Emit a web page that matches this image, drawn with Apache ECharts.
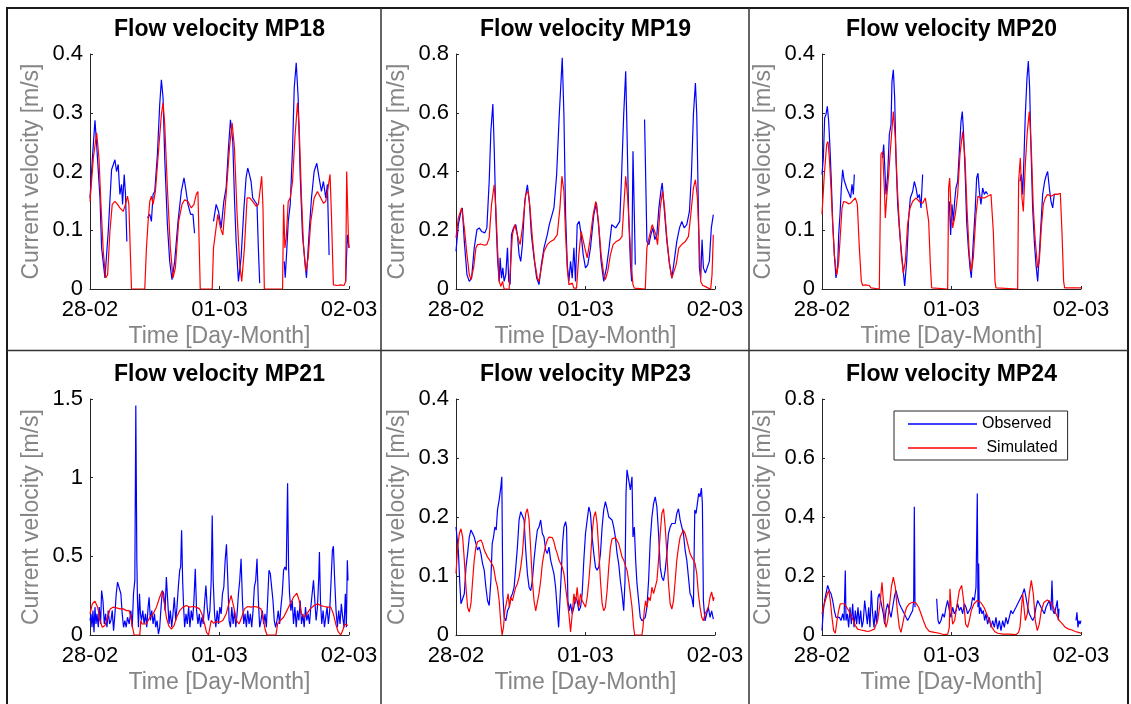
<!DOCTYPE html>
<html><head><meta charset="utf-8">
<script src="https://cdn.jsdelivr.net/npm/echarts@6/dist/echarts.min.js"></script>
<style>html,body{margin:0;padding:0;background:#fff}#c{width:1131px;height:704px}</style>
</head><body><div id="c"></div>
<script>
// ---- tick labels / titles ----
const tickLabels = ['28-02', '01-03', '02-03'];   // at hours 0, 24, 48
const titles = ['Flow velocity MP18','Flow velocity MP19','Flow velocity MP20','Flow velocity MP21','Flow velocity MP23','Flow velocity MP24'];
const yMax  = [0.4, 0.8, 0.4, 1.5, 0.4, 0.8];
const yStep = [0.1, 0.2, 0.1, 0.5, 0.1, 0.2];

// ---- data: [hour since 28-02 00:00, velocity m/s]; null = gap ----
const obsMP18 = [[0,0.155],[0.43,0.22],[0.92,0.287],[1.2,0.25],[1.85,0.155],[2.15,0.07],[2.77,0.019],[3.38,0.098],[4.0,0.203],[4.62,0.22],[4.92,0.2],[5.23,0.212],[5.54,0.161],[5.85,0.178],[6.03,0.144],[6.34,0.195],[6.58,0.161],[6.83,0.081],[8,null],
[10.65,0.121],[11.08,0.127],[11.38,0.115],[11.69,0.161],[12.0,0.166],[12.49,0.229],[12.92,0.314],[13.23,0.356],[13.54,0.325],[13.85,0.223],[14.34,0.11],[14.77,0.047],[15.2,0.016],[15.69,0.047],[16.31,0.115],[16.92,0.166],[17.42,0.189],[17.72,0.172],[18.15,0.144],[18.65,0.127],[19.08,0.127],[19.38,0.095],[21,null],
[22.89,0.115],[23.38,0.144],[23.82,0.132],[24.31,0.104],[24.8,0.149],[25.23,0.172],[25.66,0.24],[26.03,0.288],[26.46,0.251],[26.77,0.155],[27.08,0.081],[27.51,0.013],[28.0,0.053],[28.49,0.132],[28.92,0.189],[29.23,0.206],[29.54,0.195],[29.85,0.183],[30.15,0.155],[30.58,0.149],[30.95,0.144],[31.2,0.07],[31.45,0.01],[33,null],
[36.0,0.047],[36.18,0.019],[36.49,0.07],[36.74,0.115],[37.11,0.144],[37.54,0.24],[37.85,0.342],[38.22,0.385],[38.58,0.325],[38.95,0.195],[39.38,0.092],[39.82,0.047],[40.12,0.019],[40.62,0.098],[41.05,0.155],[41.54,0.2],[42.03,0.214],[42.46,0.189],[42.89,0.166],[43.26,0.183],[43.69,0.155],[44.0,0.178],[44.31,0.058],[46,null],
[47.38,0.013],[47.69,0.092],[48,0.07]];
const simMP18 = [[0,0.149],[0.62,0.223],[1.23,0.266],[1.66,0.223],[2.03,0.144],[2.46,0.064],[2.89,0.019],[3.26,0.024],[3.69,0.098],[4.12,0.144],[4.62,0.149],[5.11,0.144],[5.54,0.138],[6.15,0.132],[6.58,0.144],[6.95,0.158],[7.2,0.144],[7.45,0.07],[7.69,0],[10.15,0],[10.46,0.07],[10.77,0.115],[11.08,0.149],[11.38,0.158],[11.69,0.144],[12.12,0.166],[12.74,0.24],[13.23,0.297],[13.54,0.317],[13.85,0.28],[14.34,0.172],[14.89,0.07],[15.38,0.019],[15.82,0.036],[16.43,0.115],[17.05,0.144],[17.54,0.152],[18.15,0.149],[18.77,0.138],[19.26,0.144],[19.69,0.161],[20.0,0.166],[20.25,0.07],[20.43,0],[22.65,0],[22.89,0.07],[23.2,0.092],[23.69,0.127],[24.18,0.104],[24.62,0.092],[25.23,0.161],[25.85,0.24],[26.34,0.283],[26.77,0.24],[27.26,0.127],[27.75,0.041],[28.12,0.013],[28.62,0.07],[29.11,0.155],[29.6,0.155],[30.15,0.149],[30.77,0.141],[31.2,0.144],[31.57,0.172],[31.82,0.192],[32.06,0.138],[32.31,0],[35.69,0],[35.88,0.144],[36.12,0.07],[36.37,0.087],[36.74,0.149],[37.11,0.155],[37.54,0.183],[37.97,0.257],[38.46,0.317],[38.77,0.274],[39.2,0.155],[39.57,0.075],[40.0,0.03],[40.43,0.053],[40.92,0.115],[41.54,0.155],[42.15,0.166],[42.77,0.155],[43.26,0.146],[43.69,0.149],[44.12,0.172],[44.49,0.195],[44.74,0.127],[45.11,0.007],[45.85,0.006],[46.46,0.007],[47.08,0.006],[47.38,0.013],[47.57,0.2],[47.88,0.092],[48,0.07]];

const obsMP19 = [[0,0.128],[0.43,0.219],[0.92,0.264],[1.17,0.276],[1.54,0.162],[2.03,0.049],[2.46,0.026],[2.89,0.037],[3.38,0.14],[3.88,0.202],[4.31,0.208],[4.74,0.196],[5.05,0.202],[5.35,0.191],[5.72,0.208],[6.15,0.367],[6.46,0.537],[6.83,0.63],[7.08,0.48],[7.38,0.253],[7.69,0.106],[8.0,0.026],[8.18,0.106],[8.43,0.037],[8.68,0.072],[8.92,0.026],[9.23,0.049],[9.54,0.14],[9.78,0.026],[10.03,0.015],[10.28,0.185],[10.65,0.208],[11.08,0.219],[11.38,0.185],[11.69,0.117],[12.0,0.094],[12.31,0.151],[12.74,0.298],[13.23,0.355],[13.6,0.298],[13.97,0.185],[14.46,0.106],[14.95,0.037],[15.38,0.015],[15.82,0.083],[16.31,0.14],[16.92,0.185],[17.29,0.219],[17.66,0.225],[18.15,0.276],[18.65,0.389],[19.14,0.594],[19.69,0.787],[20.0,0.594],[20.31,0.253],[20.62,0.083],[20.92,0.026],[21.23,0.094],[21.54,0.037],[21.85,0.14],[22.15,0.026],[22.46,0.219],[22.83,0.23],[23.2,0.185],[23.57,0.117],[24.0,0.072],[24.43,0.083],[24.92,0.14],[25.54,0.253],[26.03,0.293],[26.46,0.208],[26.89,0.094],[27.38,0.026],[27.88,0.072],[28.37,0.14],[28.86,0.219],[29.23,0.225],[29.6,0.208],[29.97,0.219],[30.34,0.23],[30.65,0.367],[31.08,0.594],[31.45,0.741],[31.69,0.537],[32.0,0.253],[32.31,0.094],[32.55,0.026],[32.8,0.469],[33.05,0.253],[33.23,0.083],[34,null],[34.95,0.577],[35.38,0.162],[35.75,0.151],[36.12,0.185],[36.49,0.208],[36.86,0.168],[37.23,0.185],[37.6,0.276],[37.97,0.333],[38.22,0.361],[38.58,0.276],[39.08,0.162],[39.51,0.094],[40.0,0.037],[40.43,0.094],[40.92,0.162],[41.42,0.208],[41.85,0.23],[42.28,0.208],[42.77,0.219],[43.26,0.264],[43.63,0.389],[44.0,0.594],[44.37,0.701],[44.62,0.594],[44.92,0.276],[45.11,0.072],[45.35,0.037],[45.6,0.168],[45.85,0.072],[46.22,0.054],[46.58,0.06],[46.95,0.094],[47.32,0.208],[47.69,0.253],[47.8,0.253]];
const simMP19 = [[0,0.174],[0.43,0.242],[1.05,0.276],[1.54,0.208],[2.03,0.117],[2.46,0.049],[2.77,0.032],[3.26,0.072],[3.69,0.14],[4.0,0.151],[4.62,0.153],[5.23,0.149],[5.72,0.151],[6.15,0.174],[6.58,0.287],[7.08,0.355],[7.38,0.276],[7.69,0.14],[8.0,0.026],[8.31,0.009],[8.62,0.026],[8.92,0],[9.85,0],[10.15,0.094],[10.46,0.185],[10.89,0.219],[11.2,0.225],[11.51,0.174],[11.88,0.151],[12.31,0.208],[12.92,0.321],[13.35,0.333],[13.72,0.276],[14.15,0.174],[14.58,0.094],[15.08,0.037],[15.38,0.026],[15.82,0.072],[16.31,0.128],[16.92,0.151],[17.54,0.162],[18.15,0.168],[18.77,0.185],[19.26,0.276],[19.63,0.384],[20.0,0.333],[20.31,0.185],[20.62,0.072],[20.92,0.015],[21.23,0.009],[21.54,0.02],[21.85,0.003],[22.34,0.003],[22.77,0.117],[23.2,0.196],[23.57,0.202],[23.88,0.14],[24.31,0.106],[24.8,0.162],[25.42,0.253],[25.91,0.298],[26.4,0.23],[26.89,0.117],[27.38,0.049],[27.69,0.032],[28.12,0.06],[28.62,0.117],[29.11,0.151],[29.72,0.162],[30.34,0.168],[30.77,0.179],[31.08,0.276],[31.45,0.384],[31.82,0.31],[32.18,0.185],[32.49,0.072],[32.8,0.015],[33.05,0.003],[35.08,0],[35.38,0.14],[35.69,0.168],[36.0,0.162],[36.37,0.219],[36.74,0.225],[37.05,0.185],[37.35,0.151],[37.85,0.276],[38.28,0.333],[38.65,0.276],[39.08,0.174],[39.57,0.083],[40.0,0.037],[40.31,0.032],[40.8,0.083],[41.29,0.14],[41.91,0.153],[42.52,0.162],[43.08,0.179],[43.51,0.253],[44.0,0.344],[44.37,0.372],[44.74,0.31],[45.11,0.14],[45.35,0.026],[45.72,0.012],[46.15,0.009],[46.77,0.003],[47.2,0],[47.45,0.049],[47.69,0.185],[47.8,0.185]];

const obsMP20 = [[0,0.195],[0.25,0.223],[0.49,0.291],[0.74,0.297],[0.99,0.311],[1.24,0.285],[1.48,0.24],[1.73,0.183],[1.98,0.115],[2.29,0.058],[2.59,0.019],[2.9,0.036],[3.09,0.092],[3.34,0.127],[3.58,0.172],[3.83,0.203],[4.08,0.186],[4.32,0.183],[4.57,0.172],[4.82,0.175],[5.07,0.161],[5.31,0.155],[5.56,0.178],[5.81,0.161],[5.99,0.195],[8,null],[11.24,0.223],[11.43,0.246],[11.61,0.212],[11.86,0.161],[12.17,0.195],[12.48,0.263],[12.79,0.28],[12.97,0.353],[13.22,0.373],[13.47,0.325],[13.71,0.223],[14.02,0.144],[14.33,0.104],[14.64,0.07],[14.95,0.041],[15.32,0.005],[15.69,0.047],[16.06,0.121],[16.37,0.155],[16.8,0.166],[17.11,0.183],[17.42,0.172],[17.73,0.155],[18.04,0.161],[18.35,0.138],[18.65,0.195],[21,null],[23.6,0.149],[23.84,0.092],[24.09,0.144],[24.34,0.115],[24.58,0.149],[24.83,0.172],[25.14,0.183],[25.45,0.234],[25.76,0.285],[26.0,0.302],[26.25,0.263],[26.56,0.189],[26.81,0.115],[27.12,0.07],[27.43,0.036],[27.67,0.019],[28.04,0.081],[28.41,0.138],[28.66,0.189],[28.91,0.197],[29.16,0.166],[29.46,0.144],[29.77,0.172],[30.08,0.161],[30.39,0.166],[30.7,0.161],[33,null],[36.69,0.183],[36.94,0.195],[37.19,0.161],[37.43,0.223],[37.68,0.297],[37.99,0.359],[38.24,0.388],[38.48,0.342],[38.73,0.24],[39.04,0.138],[39.35,0.081],[39.66,0.041],[39.97,0.013],[40.27,0.058],[40.58,0.11],[40.89,0.161],[41.26,0.183],[41.51,0.192],[41.82,0.2],[42.13,0.172],[42.44,0.149],[42.75,0.138],[43.05,0.161],[43.36,0.158],[43.67,0.161]];
const simMP20 = [[0,0.127],[0.43,0.195],[0.86,0.246],[1.11,0.251],[1.36,0.223],[1.67,0.172],[1.98,0.11],[2.29,0.058],[2.72,0.024],[3.09,0.047],[3.4,0.092],[3.71,0.138],[4.02,0.149],[4.45,0.148],[4.88,0.145],[5.31,0.146],[5.68,0.149],[6.18,0.155],[6.55,0.144],[6.92,0.07],[7.29,0.013],[7.54,0.006],[8.03,0.007],[8.77,0.006],[9.08,0.002],[10.62,0],[10.93,0.229],[11.24,0.234],[11.55,0.172],[11.74,0.121],[11.98,0.155],[12.35,0.195],[12.79,0.251],[13.22,0.302],[13.59,0.257],[13.96,0.172],[14.33,0.11],[14.7,0.058],[15.07,0.027],[15.44,0.047],[15.87,0.11],[16.31,0.138],[16.8,0.149],[17.42,0.155],[18.04,0.149],[18.65,0.146],[19.15,0.155],[19.46,0.158],[19.77,0.115],[20.08,0.041],[20.32,0.002],[23.29,0],[23.47,0.172],[23.66,0.189],[23.9,0.138],[24.21,0.104],[24.71,0.127],[25.14,0.161],[25.57,0.229],[26.07,0.268],[26.5,0.223],[26.87,0.138],[27.3,0.058],[27.67,0.03],[28.04,0.053],[28.54,0.127],[28.91,0.158],[29.46,0.155],[30.08,0.155],[30.7,0.158],[31.32,0.161],[31.75,0.098],[32.06,0.013],[32.25,0.002],[36.26,0],[36.44,0.183],[36.75,0.223],[37.06,0.155],[37.31,0.132],[37.68,0.212],[38.05,0.268],[38.42,0.302],[38.79,0.24],[39.16,0.138],[39.53,0.081],[39.97,0.036],[40.27,0.047],[40.64,0.104],[41.02,0.144],[41.39,0.155],[41.82,0.161],[42.44,0.158],[43.05,0.161],[43.67,0.161],[44.17,0.163],[44.47,0.098],[44.78,0.013],[44.97,0.002],[48,0.002]];

const obsMP21 = [[0,0.092],[0.18,0.134],[0.37,0.049],[0.55,0.155],[0.74,0.017],[0.92,0.177],[1.11,0.07],[1.29,0.134],[1.54,0.049],[1.72,0.177],[1.97,0.07],[2.15,0.283],[2.4,0.219],[2.65,0.07],[2.89,0.134],[3.14,0.049],[3.38,0.155],[3.63,0.07],[3.88,0.092],[4.12,0.155],[4.37,0.028],[4.62,0.134],[4.86,0.262],[5.11,0.336],[5.42,0.347],[5.72,0.262],[5.97,0.134],[6.22,0.049],[6.46,0.092],[6.71,0.049],[6.95,0.113],[7.26,0.07],[7.57,0.155],[7.82,0.049],[8.06,0.262],[8.31,0.347],[8.49,1.458],[8.68,0.475],[8.8,0.219],[8.98,0.049],[9.17,0.262],[9.35,0.134],[9.54,0.092],[9.78,0.155],[10.03,0.07],[10.28,0.134],[10.52,0.049],[10.77,0.177],[10.95,0.24],[11.2,0.092],[11.45,0.155],[11.69,0.07],[11.94,0.134],[12.18,0.049],[12.43,0.092],[12.68,0.006],[12.92,0.049],[13.17,0.177],[13.42,0.283],[13.66,0.262],[13.91,0.155],[14.15,0.368],[14.4,0.219],[14.65,0.07],[14.89,0.155],[15.14,0.049],[15.38,0.134],[15.63,0.24],[15.88,0.092],[16.12,0.177],[16.37,0.304],[16.62,0.411],[16.8,0.432],[16.98,0.666],[17.17,0.347],[17.35,0.177],[17.54,0.049],[17.79,0.134],[18.03,0.07],[18.28,0.177],[18.52,0.049],[18.77,0.155],[19.02,0.092],[19.26,0.219],[19.51,0.421],[19.75,0.155],[20.0,0.07],[20.25,0.134],[20.49,0.049],[20.74,0.113],[20.98,0.07],[21.23,0.198],[21.48,0.315],[21.72,0.177],[21.97,0.092],[22.22,0.155],[22.46,0.347],[22.65,0.76],[22.83,0.347],[23.08,0.134],[23.32,0.049],[23.57,0.155],[23.82,0.07],[24.06,0.177],[24.31,0.134],[24.55,0.262],[24.8,0.304],[25.05,0.475],[25.29,0.577],[25.54,0.347],[25.78,0.092],[26.03,0.049],[26.28,0.177],[26.52,0.07],[26.77,0.155],[27.02,0.049],[27.26,0.134],[27.51,0.262],[27.75,0.347],[28.0,0.485],[28.25,0.219],[28.49,0.07],[28.74,0.134],[28.98,0.049],[29.23,0.155],[29.48,0.07],[29.72,0.134],[29.97,0.049],[30.22,0.155],[30.46,0.304],[30.71,0.347],[30.95,0.485],[31.2,0.219],[31.45,0.049],[31.69,0.092],[31.94,0.155],[32.18,0.07],[32.43,0.134],[32.68,0.049],[32.92,0.219],[33.17,0.411],[33.42,0.389],[33.66,0.304],[33.91,0.219],[34.15,0.092],[34.4,0.049],[34.65,0.092],[34.89,0.155],[35.14,0.07],[35.38,0.177],[35.63,0.262],[35.88,0.411],[36.12,0.432],[36.37,0.411],[36.62,0.964],[36.8,0.432],[36.98,0.262],[37.23,0.155],[37.48,0.219],[37.72,0.07],[37.97,0.177],[38.22,0.049],[38.46,0.155],[38.71,0.092],[38.95,0.219],[39.2,0.07],[39.45,0.134],[39.69,0.049],[39.94,0.177],[40.18,0.092],[40.43,0.134],[40.68,0.07],[40.92,0.177],[41.17,0.262],[41.42,0.347],[41.66,0.219],[41.91,0.092],[42.15,0.177],[42.4,0.368],[42.52,0.528],[42.71,0.219],[42.95,0.07],[43.2,0.155],[43.45,0.049],[43.69,0.113],[43.94,0.177],[44.18,0.07],[44.43,0.155],[44.68,0.347],[44.92,0.538],[45.11,0.564],[45.35,0.347],[45.6,0.155],[45.85,0.049],[46.09,0.155],[46.34,0.07],[46.58,0.198],[46.83,0.113],[47.08,0.049],[47.32,0.262],[47.51,0.049],[47.69,0.475],[47.82,0.347]];
const simMP21 = [[0,0.134],[0.43,0.198],[0.92,0.215],[1.42,0.177],[1.85,0.092],[2.28,0.049],[2.77,0.06],[3.26,0.113],[3.75,0.166],[4.25,0.177],[4.92,0.172],[5.54,0.166],[6.15,0.166],[6.77,0.155],[7.26,0.155],[7.57,0.113],[7.88,0.049],[8.18,0],[9.23,0],[9.42,0.092],[9.66,0.07],[10.03,0.081],[10.46,0.07],[11.08,0.113],[11.69,0.134],[12.31,0.177],[12.92,0.24],[13.35,0.279],[13.72,0.219],[14.15,0.113],[14.58,0.06],[15.08,0.038],[15.57,0.06],[16.06,0.113],[16.62,0.155],[17.23,0.177],[17.85,0.187],[18.46,0.177],[19.08,0.181],[19.69,0.177],[20.31,0.166],[20.74,0.134],[21.23,0.07],[21.6,0.017],[21.97,0],[22.46,0.092],[22.95,0.074],[23.38,0.085],[24.0,0.081],[24.62,0.092],[25.23,0.134],[25.72,0.198],[26.15,0.251],[26.65,0.177],[27.14,0.092],[27.63,0.07],[28.12,0.113],[28.62,0.166],[29.23,0.181],[29.85,0.177],[30.46,0.181],[31.08,0.177],[31.69,0.166],[32.06,0.113],[32.43,0.038],[32.8,0],[34.46,0],[34.77,0.07],[35.26,0.092],[35.88,0.113],[36.49,0.155],[37.11,0.198],[37.72,0.24],[38.34,0.266],[38.77,0.219],[39.2,0.134],[39.69,0.113],[40.18,0.134],[40.8,0.166],[41.54,0.187],[42.15,0.198],[42.77,0.187],[43.38,0.181],[44.0,0.177],[44.62,0.177],[45.11,0.134],[45.54,0.07],[45.97,0.023],[46.46,0],[46.83,0.028],[47.2,0.07],[47.51,0.081],[47.82,0.06]];

const obsMP23 = [[0,0.183],[0.18,0.186],[0.43,0.144],[0.68,0.092],[0.92,0.053],[1.23,0.056],[1.54,0.07],[1.85,0.115],[2.15,0.138],[2.46,0.166],[2.77,0.178],[3.08,0.172],[3.38,0.166],[3.69,0.155],[4.0,0.144],[4.31,0.149],[4.62,0.138],[4.92,0.121],[5.23,0.11],[5.54,0.081],[5.85,0.058],[6.15,0.05],[6.46,0.092],[6.71,0.155],[6.95,0.166],[7.2,0.183],[7.45,0.178],[7.69,0.212],[8.0,0.229],[8.31,0.251],[8.49,0.268],[8.68,0.07],[8.92,0.03],[9.23,0.024],[9.54,0.041],[9.85,0.047],[10.15,0.064],[10.46,0.07],[10.77,0.081],[11.08,0.115],[11.38,0.149],[11.69,0.195],[12.0,0.209],[12.31,0.212],[12.62,0.195],[12.92,0.144],[13.23,0.104],[13.54,0.081],[13.85,0.075],[14.15,0.092],[14.46,0.127],[14.77,0.155],[15.08,0.178],[15.38,0.183],[15.69,0.195],[16.0,0.172],[16.31,0.166],[16.62,0.144],[16.92,0.138],[17.23,0.149],[17.54,0.127],[17.85,0.115],[18.15,0.104],[18.46,0.081],[18.77,0.041],[19.02,0.013],[19.26,0.058],[19.51,0.104],[19.75,0.155],[20.0,0.183],[20.31,0.192],[20.49,0.183],[20.74,0.058],[20.98,0.041],[21.23,0.053],[21.54,0.036],[21.85,0.047],[22.15,0.064],[22.46,0.058],[22.77,0.041],[23.08,0.047],[23.38,0.07],[23.69,0.127],[24.0,0.172],[24.31,0.195],[24.62,0.217],[24.92,0.206],[25.23,0.166],[25.54,0.138],[25.85,0.115],[26.15,0.11],[26.46,0.115],[26.77,0.138],[27.08,0.183],[27.38,0.212],[27.69,0.226],[28.0,0.214],[28.31,0.2],[28.62,0.2],[28.92,0.195],[29.23,0.183],[29.54,0.166],[29.85,0.138],[30.15,0.121],[30.46,0.092],[30.77,0.07],[31.08,0.041],[31.32,0.092],[31.51,0.24],[31.69,0.28],[32.0,0.263],[32.31,0.246],[32.62,0.268],[32.8,0.166],[33.05,0.183],[33.29,0.127],[33.54,0.087],[33.85,0.058],[34.15,0.03],[34.46,0.024],[34.77,0.027],[35.08,0.03],[35.38,0.047],[35.69,0.092],[36.0,0.161],[36.31,0.2],[36.62,0.223],[36.92,0.234],[37.23,0.217],[37.54,0.172],[37.85,0.115],[38.15,0.098],[38.46,0.092],[38.77,0.11],[39.08,0.138],[39.38,0.172],[39.69,0.183],[40.0,0.189],[40.31,0.189],[40.62,0.189],[40.92,0.206],[41.23,0.214],[41.54,0.195],[41.85,0.183],[42.15,0.172],[42.46,0.144],[42.77,0.127],[43.08,0.098],[43.38,0.07],[43.69,0.064],[44.0,0.047],[44.25,0.212],[44.49,0.206],[44.74,0.223],[44.98,0.24],[45.23,0.234],[45.48,0.249],[45.66,0.223],[45.85,0.058],[46.15,0.024],[46.46,0.036],[46.77,0.047],[47.08,0.03],[47.38,0.041],[47.69,0.027]];
const simMP23 = [[0,0.104],[0.31,0.149],[0.62,0.172],[0.92,0.18],[1.23,0.166],[1.54,0.127],[1.85,0.081],[2.15,0.047],[2.46,0.039],[2.77,0.053],[3.08,0.092],[3.38,0.127],[3.69,0.149],[4.0,0.158],[4.31,0.158],[4.62,0.161],[4.92,0.155],[5.23,0.144],[5.85,0.132],[6.46,0.124],[6.95,0.115],[7.38,0.092],[7.69,0.081],[8.0,0.058],[8.31,0.019],[8.55,0],[8.8,0.013],[9.05,0.041],[9.42,0.058],[9.66,0.07],[9.91,0.047],[10.15,0.064],[10.46,0.058],[10.77,0.07],[11.08,0.081],[11.38,0.087],[11.69,0.098],[12.0,0.115],[12.31,0.138],[12.62,0.178],[12.92,0.206],[13.23,0.214],[13.54,0.195],[13.85,0.144],[14.15,0.092],[14.46,0.058],[14.77,0.041],[15.08,0.041],[15.38,0.07],[15.69,0.092],[16.0,0.121],[16.31,0.138],[16.62,0.152],[16.92,0.161],[17.23,0.166],[17.54,0.167],[17.85,0.165],[18.15,0.158],[18.46,0.146],[18.77,0.138],[19.08,0.127],[19.38,0.121],[19.69,0.115],[20.0,0.104],[20.31,0.081],[20.62,0.058],[20.92,0.036],[21.23,0.005],[21.54,0.036],[21.85,0.07],[22.15,0.053],[22.46,0.081],[22.77,0.047],[23.08,0.07],[23.38,0.058],[23.69,0.053],[24.0,0.047],[24.31,0.064],[24.62,0.092],[24.92,0.127],[25.23,0.172],[25.54,0.2],[25.85,0.209],[26.15,0.189],[26.46,0.144],[26.77,0.092],[27.08,0.053],[27.38,0.041],[27.69,0.047],[28.0,0.075],[28.31,0.115],[28.62,0.149],[28.92,0.163],[29.23,0.165],[29.54,0.165],[29.85,0.165],[30.15,0.155],[30.46,0.144],[30.77,0.132],[31.08,0.127],[31.38,0.118],[31.69,0.11],[32.0,0.092],[32.31,0.07],[32.62,0.047],[32.92,0.013],[33.11,0],[34.46,0],[34.65,0.013],[34.89,0.041],[35.14,0.058],[35.38,0.047],[35.69,0.064],[36.0,0.058],[36.31,0.081],[36.62,0.07],[36.92,0.07],[37.23,0.092],[37.54,0.127],[37.85,0.172],[38.15,0.206],[38.46,0.214],[38.77,0.183],[39.08,0.138],[39.38,0.087],[39.69,0.053],[40.0,0.044],[40.31,0.058],[40.62,0.092],[40.92,0.127],[41.23,0.149],[41.54,0.166],[41.85,0.172],[42.15,0.178],[42.46,0.172],[42.77,0.161],[43.08,0.149],[43.38,0.138],[43.69,0.132],[44.0,0.127],[44.31,0.121],[44.62,0.104],[44.92,0.07],[45.23,0.047],[45.54,0.03],[45.85,0.024],[46.15,0.036],[46.46,0.041],[46.77,0.047],[47.08,0.064],[47.38,0.073],[47.69,0.058],[47.82,0.064]];

const obsMP24 = [[0,0.015],[0.25,0.083],[0.49,0.117],[0.74,0.14],[1.05,0.168],[1.36,0.151],[1.67,0.14],[1.98,0.117],[2.29,0.083],[2.59,0.06],[2.9,0.054],[3.21,0.06],[3.52,0.049],[3.83,0.072],[4.08,0.049],[4.32,0.219],[4.45,0.049],[4.69,0.072],[4.94,0.026],[5.19,0.094],[5.44,0.037],[5.68,0.106],[5.93,0.026],[6.18,0.083],[6.42,0.037],[6.67,0.094],[6.92,0.037],[7.17,0.083],[7.41,0.026],[7.66,0.049],[7.91,0.117],[8.15,0.117],[8.4,0.037],[8.65,0.094],[8.89,0.026],[9.14,0.151],[9.39,0.072],[9.64,0.026],[9.88,0.083],[10.13,0.037],[10.38,0.128],[10.62,0.14],[10.87,0.117],[11.12,0.094],[11.37,0.072],[11.61,0.037],[11.86,0.083],[12.17,0.106],[12.48,0.083],[12.79,0.06],[13.1,0.094],[13.4,0.128],[13.71,0.151],[14.02,0.128],[14.33,0.106],[14.64,0.094],[14.95,0.083],[15.26,0.072],[15.57,0.06],[15.87,0.049],[16.18,0.06],[16.49,0.072],[16.8,0.083],[16.99,0.117],[17.11,0.435],[17.24,0.094],[19,null],
[21.25,0.123],[21.5,0.049],[21.74,0.037],[22.05,0.049],[22.36,0.072],[22.67,0.06],[22.98,0.094],[23.29,0.117],[23.6,0.083],[23.9,0.06],[24.21,0.094],[24.52,0.072],[24.83,0.083],[25.14,0.106],[25.45,0.083],[25.76,0.094],[26.07,0.072],[26.38,0.106],[26.68,0.094],[26.99,0.072],[27.3,0.083],[27.61,0.094],[27.92,0.128],[28.23,0.117],[28.54,0.162],[28.78,0.48],[28.91,0.094],[29.03,0.242],[29.16,0.072],[29.4,0.094],[29.65,0.072],[29.9,0.083],[30.14,0.049],[30.39,0.072],[30.7,0.037],[31.01,0.06],[31.32,0.026],[31.63,0.049],[31.93,0.026],[32.24,0.06],[32.55,0.02],[32.86,0.049],[33.17,0.015],[33.48,0.049],[33.79,0.026],[34.1,0.06],[34.41,0.037],[34.71,0.06],[35.02,0.083],[35.33,0.072],[35.64,0.083],[35.95,0.094],[36.26,0.089],[36.57,0.117],[36.88,0.123],[37.19,0.14],[37.49,0.157],[37.8,0.128],[38.11,0.094],[38.42,0.072],[38.73,0.06],[39.04,0.049],[39.35,0.06],[39.66,0.094],[39.97,0.117],[40.27,0.106],[40.58,0.094],[40.89,0.083],[41.2,0.072],[41.51,0.094],[41.82,0.106],[42.13,0.117],[42.44,0.083],[42.62,0.185],[42.81,0.083],[43.05,0.072],[43.36,0.094],[43.61,0.117],[43.79,0.049],[43.92,0.089],[45,null],
[47.07,0.049],[47.25,0.077],[47.44,0.026],[47.62,0.049],[47.81,0.037],[48,0.049]];
const simMP24 = [[0,0.072],[0.25,0.094],[0.62,0.117],[0.99,0.14],[1.24,0.151],[1.54,0.117],[1.85,0.06],[2.16,0.015],[2.47,0.006],[2.78,0.049],[3.09,0.083],[3.4,0.106],[3.71,0.111],[4.14,0.106],[4.57,0.094],[4.94,0.083],[5.37,0.066],[5.81,0.049],[6.18,0.032],[6.61,0.02],[7.23,0.017],[7.84,0.015],[8.46,0.012],[9.08,0.015],[9.7,0.02],[10.32,0.049],[10.75,0.106],[11.12,0.179],[11.37,0.117],[11.61,0.049],[11.86,0.026],[12.17,0.049],[12.48,0.094],[12.85,0.162],[13.22,0.196],[13.59,0.162],[13.96,0.083],[14.33,0.026],[14.64,0.009],[14.95,0.037],[15.32,0.072],[15.69,0.094],[16.18,0.106],[16.8,0.111],[17.42,0.108],[17.91,0.094],[18.35,0.072],[18.78,0.049],[19.27,0.026],[19.89,0.012],[20.82,0.009],[21.74,0.006],[22.67,0.001],[23.29,0.003],[23.6,0.026],[23.72,0.157],[23.97,0.083],[24.21,0.037],[24.58,0.049],[24.95,0.094],[25.45,0.151],[25.88,0.168],[26.25,0.117],[26.62,0.037],[26.99,0.026],[27.3,0.049],[27.67,0.083],[28.17,0.106],[28.78,0.117],[29.4,0.111],[30.02,0.094],[30.51,0.072],[31.01,0.049],[31.5,0.026],[32.0,0.012],[32.55,0.006],[33.48,0.003],[34.71,0.003],[35.95,0.001],[36.44,0.009],[36.69,0.026],[36.94,0.083],[37.19,0.14],[37.43,0.094],[37.68,0.049],[38.05,0.072],[38.42,0.14],[38.79,0.185],[39.16,0.14],[39.53,0.049],[39.9,0.015],[40.27,0.037],[40.64,0.083],[41.14,0.111],[41.76,0.119],[42.38,0.111],[42.87,0.094],[43.36,0.072],[43.98,0.049],[44.6,0.037],[45.09,0.026],[45.71,0.02],[46.32,0.017],[46.94,0.012],[47.69,0.008],[48,0.006]];

const observed  = [obsMP18, obsMP19, obsMP20, obsMP21, obsMP23, obsMP24];
const simulated = [simMP18, simMP19, simMP20, simMP21, simMP23, simMP24];

// ---- layout ----
const FONT = "'Liberation Sans', Arial, sans-serif";
const colLeft = [90, 456, 822];
const rowTop = [54, 399];
const rowH = [235, 236];
const PW = 259;

const grid = [], xAxis = [], yAxis = [], series = [], title = [];
for (let i = 0; i < 6; i++) {
  const r = Math.floor(i / 3), c = i % 3;
  const left = colLeft[c], top = rowTop[r];
  grid.push({ left: left, top: top, width: PW, height: rowH[r], containLabel: false });
  title.push({
    text: titles[i], left: left + PW / 2, top: top - 36, textAlign: 'center', padding: 0,
    textStyle: { fontFamily: FONT, fontSize: 23, fontWeight: 'bold', color: '#000' }
  });
  xAxis.push({
    type: 'value', gridIndex: i, min: 0, max: 48, interval: 24,
    name: 'Time [Day-Month]', nameLocation: 'middle', nameGap: 36,
    nameTextStyle: { fontFamily: FONT, fontSize: 23, color: '#858585' },
    axisLine: { show: true, onZero: false, lineStyle: { color: '#262626', width: 1 } },
    axisTick: { show: true, inside: true, length: 3, lineStyle: { color: '#262626' } },
    axisLabel: { fontFamily: FONT, fontSize: 22, color: '#000', margin: 10,
      formatter: v => tickLabels[Math.round(v / 24)] },
    splitLine: { show: false }
  });
  yAxis.push({
    type: 'value', gridIndex: i, min: 0, max: yMax[i], interval: yStep[i],
    name: 'Current velocity [m/s]', nameLocation: 'middle', nameGap: 47,
    nameTextStyle: { fontFamily: FONT, fontSize: 23, color: '#858585' },
    axisLine: { show: true, lineStyle: { color: '#262626', width: 1 } },
    axisTick: { show: true, inside: true, length: 3, lineStyle: { color: '#262626' } },
    axisLabel: { fontFamily: FONT, fontSize: 22, color: '#000', margin: 7 },
    splitLine: { show: false }
  });
  series.push({
    name: 'Observed', type: 'line', xAxisIndex: i, yAxisIndex: i,
    data: observed[i], showSymbol: false, symbol: 'none', connectNulls: false,
    lineStyle: { color: '#0000ff', width: 1.2 }, itemStyle: { color: '#0000ff' }, animation: false
  });
  series.push({
    name: 'Simulated', type: 'line', xAxisIndex: i, yAxisIndex: i,
    data: simulated[i], showSymbol: false, symbol: 'none',
    lineStyle: { color: '#ff0000', width: 1.2 }, itemStyle: { color: '#ff0000' }, animation: false
  });
}

const chart = echarts.init(document.getElementById('c'));
chart.setOption({
  backgroundColor: '#fff',
  animation: false,
  title: title,
  grid: grid, xAxis: xAxis, yAxis: yAxis, series: series,
  legend: {
    data: ['Observed', 'Simulated'], orient: 'vertical', left: 894, top: 411,
    icon: 'rect', itemWidth: 69, itemHeight: 1.3, itemGap: 8,
    padding: [5, 10, 4, 14],
    backgroundColor: '#fff', borderColor: '#262626', borderWidth: 1, borderRadius: 0,
    textStyle: { fontFamily: FONT, fontSize: 16, color: '#000', lineHeight: 14 },
    formatter: n => (n === 'Simulated' ? ' ' + n : n)
  },
  graphic: [
    { type: 'rect', shape: { x: 7, y: 8, width: 1121, height: 720 }, style: { fill: 'none', stroke: '#1a1a1a', lineWidth: 2 }, silent: true },
    { type: 'line', shape: { x1: 381, y1: 8, x2: 381, y2: 704 }, style: { stroke: '#333', lineWidth: 1.5 }, silent: true },
    { type: 'line', shape: { x1: 749, y1: 8, x2: 749, y2: 704 }, style: { stroke: '#333', lineWidth: 1.5 }, silent: true },
    { type: 'line', shape: { x1: 7, y1: 350.5, x2: 1128, y2: 350.5 }, style: { stroke: '#333', lineWidth: 1.5 }, silent: true }
  ]
});
</script>
</body></html>
